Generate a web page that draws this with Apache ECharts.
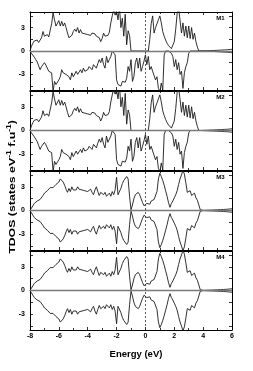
<!DOCTYPE html>
<html><head><meta charset="utf-8">
<script src="https://cdn.jsdelivr.net/npm/echarts@6/dist/echarts.min.js"></script>
<style>html,body{margin:0;padding:0;background:#fff}#c{width:253px;height:371px}</style>
</head><body><div id="c"></div>
<script>
// Energy grid: -8.0 ... 6.0 eV in 0.1 eV steps
const E_MIN = -8, E_STEP = 0.1;
const xTickValues = [-8, -6, -4, -2, 0, 2, 4, 6];
const yTickLabels = [-3, 0, 3];
const yTickMarks = [-4.5, -3, -1.5, 0, 1.5, 3, 4.5];
const panelNames = ['M1', 'M2', 'M3', 'M4'];

// M1 spin up / spin down
const m1Up = [
 0, 0.6, 1.0, 1.3, 1.5, 1.4, 1.1, 1.3, 1.7, 2.5,
 1.9, 2.0, 2.1, 1.8, 1.8, 3.5, 4.9, 4.0, 3.2, 3.4,
 3.9, 3.2, 3.8, 3.2, 3.6, 3.0, 2.3, 1.7, 1.55, 2.0,
 2.5, 2.8, 2.5, 3.0, 2.3, 2.75, 2.3, 2.5, 2.2, 2.4,
 2.1, 2.3, 2.0, 2.3, 2.1, 2.2, 1.9, 2.1, 1.7, 1.2,
 1.6, 2.3, 1.9, 2.1, 2.0, 2.4, 3.6, 4.5, 5.3, 4.6,
 5.1, 4.0, 5.7, 3.0, 4.2, 1.9, 4.7, 0.8, 2.6, 2.0,
 0, 0, 0, 0, 0, 0, 0, 0, 0, 0,
 0, 0, 0, 1.5, 3.5, 4.5, 2.3, 3.0, 3.5, 4.0,
 4.5, 3.6, 2.5, 1.9, 1.4, 1.0, 0.7, 0.5, 0.3, 0.1,
 1.2, 2.8, 4.8, 5.5, 5.3, 2.3, 3.6, 1.9, 3.2, 1.7,
 3.2, 1.6, 3.0, 1.5, 2.3, 1.2, 0.5, 0, 0, 0,
 0.01, 0.02, 0.02, 0.03, 0.04, 0.05, 0.05, 0.06, 0.07, 0.08,
 0.09, 0.1, 0.11, 0.12, 0.13, 0.14, 0.15, 0.16, 0.18, 0.2,
 0.22
];
const m1Dn = [
 0, -0.3, -0.5, -0.8, -1.1, -1.4, -1.9, -2.4, -2.0, -2.2,
 -1.5, -1.8, -2.0, -2.6, -2.8, -2.8, -5.2, -3.9, -4.3, -4.5,
 -3.7, -3.3, -2.4, -2.8, -2.6, -3.0, -3.1, -3.3, -3.7, -2.8,
 -3.3, -3.5, -2.6, -3.0, -2.7, -2.4, -2.8, -2.2, -2.6, -2.5,
 -2.4, -2.0, -2.2, -2.4, -1.75, -1.5, -2.2, -1.6, -1.1, -1.5,
 -0.9, -1.75, -2.2, -0.7, -1.5, -1.1, -0.7, 0, 0, -0.5,
 -3.7, -4.3, -4.1, -4.5, -3.9, -4.1, -4.0, -3.5, -2.0, -2.6,
 -1.1, -3.9, -3.3, -1.5, -0.9, -2.2, -0.9, -2.6, -2.0, -1.3,
 -0.5, -1.75, -0.7, -2.4, -2.0, -2.6, -2.8, -3.7, -3.3, -4.8,
 -5.2, -4.1, -5.0, -0.5, 0, 0, 0, 0, -0.3, -0.7,
 -2.0, -1.1, -2.4, -1.5, -3.0, -2.6, -4.8, -2.8, -2.0, -1.5,
 -0.3, 0, 0, 0, 0, 0, 0, 0, 0, 0,
 -0.01, -0.02, -0.02, -0.03, -0.04, -0.05, -0.05, -0.06, -0.07, -0.08,
 -0.09, -0.1, -0.11, -0.12, -0.13, -0.14, -0.15, -0.16, -0.18, -0.2,
 -0.22
];
// M2 panel is visually identical to M1
const m2Up = m1Up.slice();
const m2Dn = m1Dn.slice();

// M3 spin up / spin down (mirror-symmetric)
const m3Up = [
 0, 0.3, 0.6, 0.9, 1.0, 1.2, 1.1, 1.4, 1.6, 1.9,
 2.2, 2.3, 2.5, 2.7, 2.9, 3.1, 2.9, 3.1, 3.3, 3.5,
 3.6, 4.0, 4.1, 3.6, 3.2, 2.7, 2.3, 2.8, 2.4, 3.0,
 2.6, 2.8, 2.6, 3.0, 2.7, 2.8, 2.6, 2.8, 2.5, 2.7,
 2.4, 2.2, 2.7, 2.3, 2.0, 2.6, 3.0, 2.4, 1.9, 2.3,
 2.1, 2.0, 2.3, 1.8, 2.0, 2.2, 1.8, 2.4, 2.0, 2.6,
 4.2, 2.0, 2.2, 2.8, 3.4, 3.8, 4.0, 4.3, 4.0, 1.8,
 0.1, 0.7, 1.5, 2.0, 2.2, 2.3, 2.0, 1.5, 1.0, 0.6,
 0.8, 0.9, 1.0, 0.8, 1.2, 1.0, 1.4, 1.5, 2.4, 4.0,
 4.7, 4.3, 3.8, 3.2, 2.5, 1.8, 1.0, 0.4, 0.9, 1.2,
 1.6, 2.0, 2.5, 3.3, 4.0, 4.5, 5.1, 4.6, 3.5, 2.3,
 2.1, 2.5, 1.9, 1.7, 2.2, 1.6, 1.3, 1.5, 0.1, 0,
 0.01, 0.02, 0.02, 0.03, 0.04, 0.05, 0.05, 0.06, 0.07, 0.08,
 0.09, 0.1, 0.11, 0.12, 0.13, 0.14, 0.15, 0.16, 0.18, 0.2,
 0.22
];
const m3Dn = [
 0, -0.3, -0.6, -0.9, -1.0, -1.2, -1.1, -1.4, -1.6, -1.9,
 -2.2, -2.3, -2.5, -2.7, -2.9, -3.1, -2.9, -3.1, -3.3, -3.5,
 -3.6, -4.0, -4.1, -3.6, -3.2, -2.7, -2.3, -2.8, -2.4, -3.0,
 -2.6, -2.8, -2.6, -3.0, -2.7, -2.8, -2.6, -2.8, -2.5, -2.7,
 -2.4, -2.2, -2.7, -2.3, -2.0, -2.6, -3.0, -2.4, -1.9, -2.3,
 -2.1, -2.0, -2.3, -1.8, -2.0, -2.2, -1.8, -2.4, -2.0, -2.6,
 -4.2, -2.0, -2.2, -2.8, -3.4, -3.8, -4.0, -4.3, -4.0, -1.8,
 -0.1, -0.7, -1.5, -2.0, -2.2, -2.3, -2.0, -1.5, -1.0, -0.6,
 -0.8, -0.9, -1.0, -0.8, -1.2, -1.0, -1.4, -1.5, -2.4, -4.0,
 -4.7, -4.3, -3.8, -3.2, -2.5, -1.8, -1.0, -0.4, -0.9, -1.2,
 -1.6, -2.0, -2.5, -3.3, -4.0, -4.5, -5.1, -4.6, -3.5, -2.3,
 -2.1, -2.5, -1.9, -1.7, -2.2, -1.6, -1.3, -1.5, -0.1, 0,
 -0.01, -0.02, -0.02, -0.03, -0.04, -0.05, -0.05, -0.06, -0.07, -0.08,
 -0.09, -0.1, -0.11, -0.12, -0.13, -0.14, -0.15, -0.16, -0.18, -0.2,
 -0.22
];
// M4 panel is visually identical to M3
const m4Up = m3Up.slice();
const m4Dn = m3Dn.slice();

const panels = [[m1Up, m1Dn], [m2Up, m2Dn], [m3Up, m3Dn], [m4Up, m4Dn]];
const energy = m1Up.map((_, i) => +(E_MIN + i * E_STEP).toFixed(1));

const FONT = '"Liberation Sans", Arial, sans-serif';
const tops = [12, 91, 171, 251];
const heights = [78, 79, 79, 79];

const grid = tops.map((t, i) => ({ left: 30, right: 21, top: t, height: heights[i] }));
const xAxis = [], yAxis = [], series = [];
const tickStyle = { color: '#000', width: 0.8 };

tops.forEach((t, i) => {
  ['bottom', 'top'].forEach(pos => {
    xAxis.push({
      type: 'value', gridIndex: i, position: pos, min: -8, max: 6, interval: 2,
      axisLine: { show: true, onZero: false, lineStyle: { color: '#000', width: 1 } },
      axisTick: { show: true, inside: true, length: 3, lineStyle: tickStyle },
      minorTick: { show: true, splitNumber: 2, length: 2, lineStyle: tickStyle },
      splitLine: { show: false }, minorSplitLine: { show: false },
      axisLabel: { show: i === 3 && pos === 'bottom', color: '#000', fontFamily: FONT,
                   fontWeight: 'bold', fontSize: 7, margin: 3, customValues: xTickValues }
    });
  });
  ['left', 'right'].forEach(pos => {
    yAxis.push({
      type: 'value', gridIndex: i, position: pos, min: -5, max: 5,
      axisLine: { show: true, onZero: false, lineStyle: { color: '#000', width: 1 } },
      axisTick: { show: true, inside: true, length: 3, lineStyle: tickStyle, customValues: yTickMarks },
      splitLine: { show: false },
      axisLabel: { show: pos === 'left', color: '#000', fontFamily: FONT, fontWeight: 'bold',
                   fontSize: 7, margin: 5, customValues: yTickLabels }
    });
  });
  const [up, dn] = panels[i];
  const mk = (arr) => arr.map((v, k) => [energy[k], v]);
  const base = { type: 'line', xAxisIndex: 2 * i, yAxisIndex: 2 * i, showSymbol: false,
                 symbol: 'none', silent: true, animation: false, clip: true,
                 lineStyle: { color: '#1a1a1a', width: 0.9 } };
  series.push(Object.assign({}, base, {
    data: mk(up), z: 3,
    markLine: {
      silent: true, symbol: 'none', animation: false, label: { show: false },
      data: [
        { yAxis: 0, lineStyle: { color: '#7a7a7a', width: 1.3, type: 'solid' } },
        { xAxis: 0, lineStyle: { color: '#333', width: 0.8, type: [2, 2] } }
      ]
    }
  }));
  series.push(Object.assign({}, base, { data: mk(dn), z: 3 }));
});

const graphic = [];
tops.forEach((t, i) => {
  graphic.push({ type: 'text', x: 220.5, y: t + 6, z: 10,
    style: { text: panelNames[i], fill: '#000', font: 'bold 6px ' + FONT,
             align: 'center', verticalAlign: 'middle', textAlign: 'center', textVerticalAlign: 'middle' } });
});
graphic.push({ type: 'text', x: 136, y: 354, z: 10,
  style: { text: 'Energy (eV)', fill: '#000', font: 'bold 9.5px ' + FONT,
           align: 'center', verticalAlign: 'middle', textAlign: 'center', textVerticalAlign: 'middle' } });
graphic.push({ type: 'text', x: 12, y: 187, rotation: Math.PI / 2, scaleX: 1.3, z: 10,
  style: { text: 'TDOS (states eV{s|-1} f.u{s|-1})', fill: '#000', font: 'bold 9.5px ' + FONT,
           align: 'center', verticalAlign: 'middle', textAlign: 'center', textVerticalAlign: 'middle',
           rich: { s: { fontSize: 6.5, fontWeight: 'bold', fontFamily: FONT, fill: '#000', verticalAlign: 'top', padding: [0, 0, 5, 0] } } } });

const chart = echarts.init(document.getElementById('c'), null, { renderer: 'canvas' });
chart.setOption({ animation: false, backgroundColor: '#fff', grid, xAxis, yAxis, series, graphic });
</script>
</body></html>
